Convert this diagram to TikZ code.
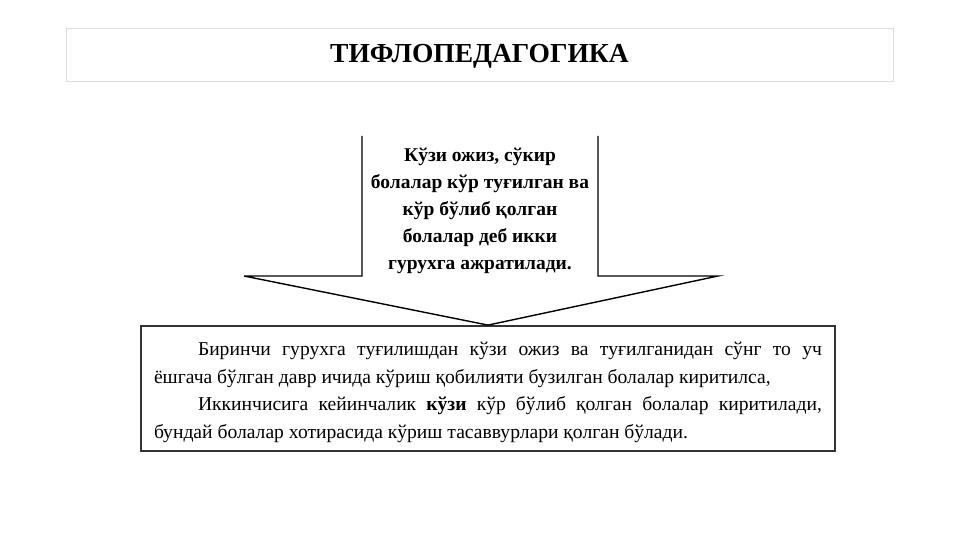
\documentclass[tikz,border=0pt]{standalone}
\usepackage{fontspec}
\setmainfont{Liberation Serif}
\usetikzlibrary{positioning}
\tikzset{
  titlebox/.style={draw=black!13,line width=0.8pt,minimum width=827pt,minimum height=53pt,inner sep=0pt},
  textbox/.style={draw=black!80,line width=1.8pt,minimum width=694pt,minimum height=125pt,inner sep=0pt},
  arrowline/.style={draw=black,line width=1.4pt,line join=miter}
}
\begin{document}
\begin{tikzpicture}[x=1pt,y=-1pt]
\useasboundingbox (0,0) rectangle (961,540);
% heading
\node[titlebox,text height=17pt,text depth=0pt,font=\fontsize{27.5}{30}\selectfont\bfseries] (title) at (479.5,54.5) {ТИФЛОПЕДАГОГИКА};
% lower box
\node[textbox] (groups) at (488,388.5) {};
\node[text width=668pt,align=justify,inner sep=0pt,font=\fontsize{19.6}{27.6}\selectfont] (groupstext) at ([yshift=-4pt]groups.center)
  {\parindent=44pt\indent Биринчи гурухга туғилишдан кўзи ожиз ва туғилганидан сўнг то уч\linebreak ёшгача бўлган давр ичида кўриш қобилияти бузилган болалар киритилса,\par
   \indent Иккинчисига кейинчалик \textbf{кўзи} кўр бўлиб қолган болалар киритилади,\linebreak бундай болалар хотирасида кўриш тасаввурлари қолган бўлади.\par};
% arrow
\coordinate (shaftL) at (362,136);
\coordinate (shaftR) at (598,136);
\coordinate (wingL) at (244,276);
\coordinate (wingR) at (718,276);
\draw[arrowline] (shaftL) -- (shaftL |- wingL) -- (wingL) -- (groups.north) -- (wingR) -- (shaftR |- wingR) -- (shaftR);
\node[align=center,font=\fontsize{19.5}{27}\selectfont\bfseries] (split) at (480,211)
  {Кўзи ожиз, сўкир\\болалар кўр туғилган ва\\кўр бўлиб қолган\\болалар деб икки\\гурухга ажратилади.};
\end{tikzpicture}
\end{document}
